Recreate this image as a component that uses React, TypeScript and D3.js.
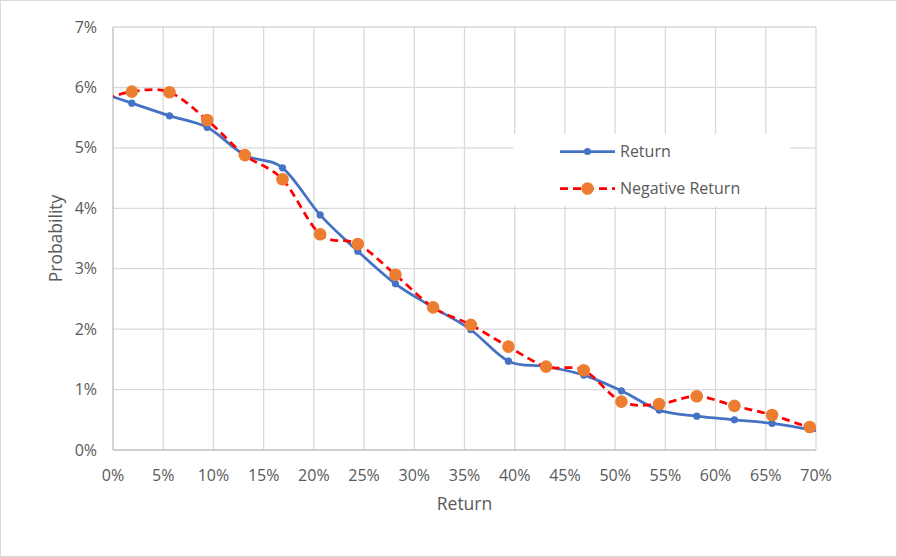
import React, { useEffect, useRef } from "react";
import * as d3 from "d3";

const returnsX = [-1.875, 1.875, 5.625, 9.375, 13.125, 16.875, 20.625, 24.375, 28.125, 31.875, 35.625, 39.375, 43.125, 46.875, 50.625, 54.375, 58.125, 61.875, 65.625, 69.375, 73.125];
const returnSeries = [5.95, 5.74, 5.53, 5.34, 4.88, 4.67, 3.89, 3.29, 2.75, 2.36, 1.99, 1.47, 1.38, 1.24, 0.98, 0.66, 0.56, 0.5, 0.44, 0.34, 0.23];
const negativeSeries = [5.75, 5.93, 5.92, 5.46, 4.88, 4.48, 3.57, 3.41, 2.9, 2.36, 2.07, 1.71, 1.38, 1.32, 0.8, 0.76, 0.89, 0.73, 0.58, 0.38, 0.3];
const xTicks = [0, 5, 10, 15, 20, 25, 30, 35, 40, 45, 50, 55, 60, 65, 70];
const yTicks = [0, 1, 2, 3, 4, 5, 6, 7];
const seriesNames = ["Return", "Negative Return"];

const W = 897, H = 557;
const M = { left: 113, right: 81, top: 27, bottom: 107 };
const FONT = "'Open Sans', 'Noto Sans', sans-serif";

export default function App() {
  const ref = useRef<SVGSVGElement>(null);
  useEffect(() => {
    const svg = d3.select(ref.current);
    svg.selectAll("*").remove();
    const x = d3.scaleLinear().domain([0, 70]).range([M.left, W - M.right]);
    const y = d3.scaleLinear().domain([0, 7]).range([H - M.bottom, M.top]);

    svg.append("rect").attr("x", 0.5).attr("y", 0.5).attr("width", W - 1).attr("height", H - 1)
      .attr("fill", "#fff").attr("stroke", "#d9d9d9");

    const defs = svg.append("defs");
    defs.append("clipPath").attr("id", "plotclip").append("rect")
      .attr("x", x(0)).attr("y", y(7) - 8).attr("width", x(70) - x(0)).attr("height", y(0) - y(7) + 8);

    const grid = svg.append("g");
    grid.selectAll("line.h").data(yTicks.filter(t => t > 0)).join("line")
      .attr("x1", x(0)).attr("x2", x(70)).attr("y1", d => y(d)).attr("y2", d => y(d))
      .attr("stroke", "#d9d9d9").attr("stroke-width", 1.3);
    grid.selectAll("line.v").data(xTicks.filter(t => t > 0)).join("line")
      .attr("y1", y(0)).attr("y2", y(7)).attr("x1", d => x(d)).attr("x2", d => x(d))
      .attr("stroke", "#d9d9d9").attr("stroke-width", 1.3);
    svg.append("line").attr("x1", x(0)).attr("x2", x(0)).attr("y1", y(0)).attr("y2", y(7))
      .attr("stroke", "#bfbfbf").attr("stroke-width", 1.3);
    svg.append("line").attr("x1", x(0)).attr("x2", x(70)).attr("y1", y(0)).attr("y2", y(0))
      .attr("stroke", "#bfbfbf").attr("stroke-width", 1.3);

    svg.append("g").selectAll("text").data(yTicks).join("text")
      .attr("x", 97).attr("y", d => y(d)).attr("dy", "0.35em").attr("text-anchor", "end")
      .attr("font-family", FONT).attr("font-size", 16).attr("fill", "#595959")
      .text(d => d + "%");
    svg.append("g").selectAll("text").data(xTicks).join("text")
      .attr("x", d => x(d)).attr("y", 475).attr("dy", "0.35em").attr("text-anchor", "middle")
      .attr("font-family", FONT).attr("font-size", 16).attr("fill", "#595959")
      .text(d => d + "%");

    svg.append("text").attr("x", (x(0) + x(70)) / 2).attr("y", 504).attr("dy", "0.35em")
      .attr("text-anchor", "middle").attr("font-family", FONT).attr("font-size", 17.5).attr("fill", "#595959")
      .text("Return");
    svg.append("text").attr("transform", `translate(56,${(y(0) + y(7)) / 2}) rotate(-90)`).attr("dy", "0.35em")
      .attr("text-anchor", "middle").attr("font-family", FONT).attr("font-size", 17.5).attr("fill", "#595959")
      .text("Probability");

    const line = (vals: number[]) => d3.line<number>()
      .x((_, i) => x(returnsX[i])).y(d => y(d)).curve(d3.curveCardinal.tension(0))(vals);

    const plot = svg.append("g").attr("clip-path", "url(#plotclip)");
    plot.append("path").attr("d", line(returnSeries)).attr("fill", "none")
      .attr("stroke", "#4472C4").attr("stroke-width", 2.75).attr("stroke-linecap", "round");
    plot.selectAll("circle.b").data(returnSeries).join("circle")
      .attr("cx", (_, i) => x(returnsX[i])).attr("cy", d => y(d)).attr("r", 3.6).attr("fill", "#4472C4");
    const plot2 = svg.append("g").attr("clip-path", "url(#plotclip)");
    plot2.append("path").attr("d", line(negativeSeries)).attr("fill", "none")
      .attr("stroke", "#FF0000").attr("stroke-width", 2.75).attr("stroke-dasharray", "8,5");
    plot2.selectAll("circle.o").data(negativeSeries).join("circle")
      .attr("cx", (_, i) => x(returnsX[i])).attr("cy", d => y(d)).attr("r", 6.3).attr("fill", "#ED7D31");

    const lg = svg.append("g");
    lg.append("rect").attr("x", 513).attr("y", 134).attr("width", 277).attr("height", 72).attr("fill", "#fff");
    const items = [
      { name: seriesNames[0], color: "#4472C4", dash: null, mc: "#4472C4", r: 3.6, yy: 151.5 },
      { name: seriesNames[1], color: "#FF0000", dash: "8,5", mc: "#ED7D31", r: 6.3, yy: 188.5 },
    ];
    items.forEach(it => {
      lg.append("line").attr("x1", 560).attr("x2", 615).attr("y1", it.yy).attr("y2", it.yy)
        .attr("stroke", it.color).attr("stroke-width", 2.75).attr("stroke-dasharray", it.dash as any);
      lg.append("circle").attr("cx", 587.5).attr("cy", it.yy).attr("r", it.r).attr("fill", it.mc);
      lg.append("text").attr("x", 620).attr("y", it.yy).attr("dy", "0.35em")
        .attr("font-family", FONT).attr("font-size", 16).attr("fill", "#595959").text(it.name);
    });
  }, []);
  return (
    <svg ref={ref} width={W} height={H} style={{ position: "absolute", left: 0, top: 0 }} />
  );
}
